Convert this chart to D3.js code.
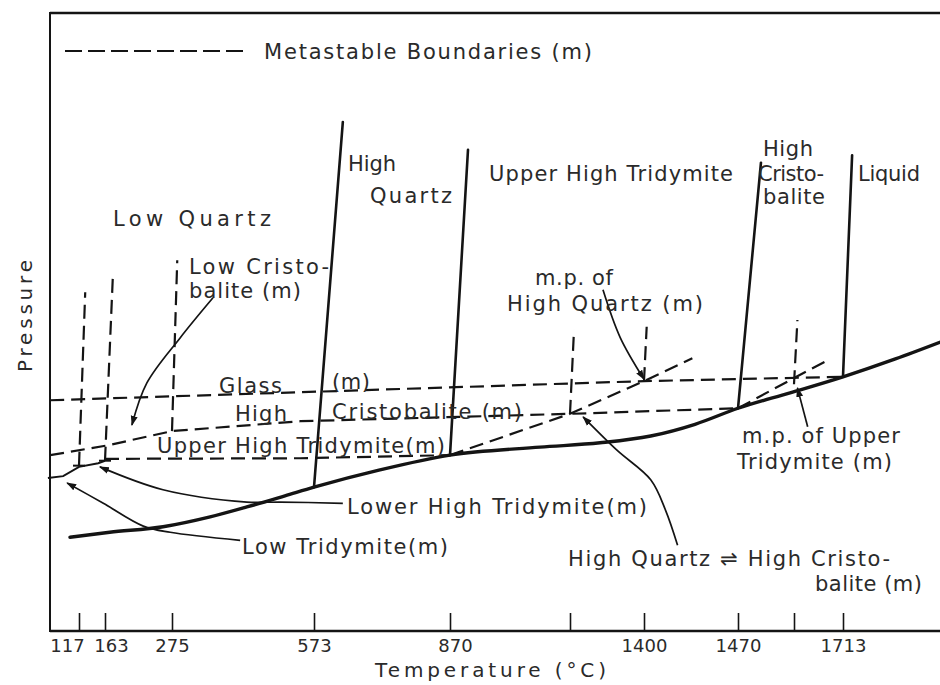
<!DOCTYPE html>
<html>
<head>
<meta charset="utf-8">
<script src="https://cdn.jsdelivr.net/npm/d3@7"></script>
<style>
  body { margin: 0; background: #fff; }
  svg { display: block; }
  text { font-family: "DejaVu Sans", sans-serif; fill: #2a2a2a; }
</style>
</head>
<body>
<svg id="chart" width="940" height="685"></svg>
<script>
// ---- Temperature axis (°C); blank labels mark metastable points without a printed value
const tickTemps  = [117, 163, 275, 573, 870, 1050, 1400, 1470, 1670, 1713];
const tickLabels = ["117", "163", "275", "573", "870", "", "1400", "1470", "", "1713"];

// ---- Stable boundaries, points as [temperature °C, relative pressure]
const stableCurve = [[101,15.2],[171,16.0],[260,16.9],[355,18.5],[432,20.1],[512,21.9],
  [573,23.3],[717,26.1],[870,28.5],[1005,29.8],[1192,30.5],[1405,31.6],[1438,33.5],
  [1470,36.1],[1656,38.6],[1713,41.2],[1759,44.1],[1798,46.8]];
const quartzBoundary      = [[573,23.3],[636,82.5]];   // low quartz / high quartz
const tridymiteBoundary   = [[870,28.5],[897,78.0]];   // high quartz / upper high tridymite
const cristobaliteBoundary= [[1470,36.1],[1552,75.9]]; // tridymite / high cristobalite
const meltingBoundary     = [[1713,41.2],[1721,77.1]]; // high cristobalite / liquid

// ---- Metastable boundaries (m)
const glassLine          = [[66,37.4],[544,38.7],[1400,40.5],[1713,41.2]];
const highCristobLine    = [[66,28.5],[168,30.1],[275,32.4],[544,34.0],[1050,35.2],[1470,36.1]];
const upperTridymiteLine = [[163,27.9],[544,28.0],[870,28.5]];
const quartzExtension    = [[870,28.5],[1050,35.2],[1400,40.5],[1436,44.2]];
const tridymiteExtension = [[1470,36.1],[1670,41.0],[1700,43.9]];
const lowTridymiteLine   = [[62,24.8],[89,25.1],[117,26.6],[151,27.2],[163,27.6]];
const metastableVerticals = [
  [[117,26.8],[128,54.9]],
  [[163,27.6],[176,57.2]],
  [[275,32.4],[286,60.1]],
  [[1050,35.2],[1069,48.8]],
  [[1400,40.5],[1402,49.3]],
  [[1670,40.0],[1673,50.4]]
];

// ---- Leader arrows from labels to the boundaries they name
const lowCristobArrow   = [[361,54.0],[292,47.5],[233,40.2],[208,33.4]];
const mpQuartzArrow     = [[1206,55.3],[1287,47.6],[1400,40.8]];
const mpTridymiteArrow  = [[1682,33.1],[1673,39.4]];
const quartzCristArrow  = [[1425,13.9],[1416,19.6],[1405,24.5],[1272,29.3],[1112,34.7]];
const lowerHighTriArrow = [[636,20.7],[502,20.9],[432,20.9],[260,22.9],[154,26.6]];
const lowTridymiteArrow = [[418,14.7],[272,16.0],[227,17.0],[160,20.7],[96,24.0]];

// ================= drawing =================
const svg = d3.select("#chart");
const ink = "#141414";

// schematic (piecewise) temperature scale and a plain pressure scale
const x = d3.scaleLinear()
  .domain(tickTemps)
  .range([79, 105, 172, 314, 450, 570, 644, 738, 794, 843]);
const y = d3.scaleLinear().domain([0, 100]).range([631, 14]);

const defs = svg.append("defs");
defs.append("marker")
  .attr("id", "arrow")
  .attr("viewBox", "0 0 10 10")
  .attr("refX", 9).attr("refY", 5)
  .attr("markerWidth", 10).attr("markerHeight", 10)
  .attr("markerUnits", "userSpaceOnUse")
  .attr("orient", "auto")
  .append("path").attr("d", "M0,1.5 L10,5 L0,8.5 Z").attr("fill", ink);

const straight = d3.line().x(d => x(d[0])).y(d => y(d[1]));
const smooth = d3.line().x(d => x(d[0])).y(d => y(d[1])).curve(d3.curveMonotoneX);
const leader = d3.line().x(d => x(d[0])).y(d => y(d[1])).curve(d3.curveCatmullRom.alpha(0.5));

// frame
const frame = svg.append("g").attr("stroke", ink).attr("fill", "none");
frame.append("line").attr("x1", 50).attr("x2", 940).attr("y1", 13).attr("y2", 13).attr("stroke-width", 2.5);
frame.append("line").attr("x1", 50).attr("x2", 50).attr("y1", 12).attr("y2", 632).attr("stroke-width", 2);
frame.append("line").attr("x1", 50).attr("x2", 940).attr("y1", 631).attr("y2", 631).attr("stroke-width", 2.5);

// temperature axis
const labelShift = { 117: -12, 163: 6, 870: 5 };
const axis = svg.append("g")
  .attr("transform", "translate(0,631)")
  .call(d3.axisBottom(x)
    .tickValues(tickTemps)
    .tickFormat((d, i) => tickLabels[i])
    .tickSize(-18)
    .tickPadding(8));
axis.select(".domain").remove();
axis.selectAll(".tick line").attr("stroke", ink).attr("stroke-width", 1.6);
axis.selectAll(".tick text")
  .attr("font-size", 18)
  .attr("font-family", "DejaVu Sans, sans-serif")
  .attr("fill", "#2a2a2a")
  .attr("dx", d => labelShift[d] || 0);

svg.append("text")
  .attr("x", 375).attr("y", 677)
  .attr("font-size", 20)
  .attr("textLength", 231).attr("lengthAdjust", "spacing")
  .text("Temperature (°C)");

svg.append("text")
  .attr("transform", "translate(32,372) rotate(-90)")
  .attr("font-size", 20)
  .attr("textLength", 112).attr("lengthAdjust", "spacing")
  .text("Pressure");

// legend
svg.append("line")
  .attr("x1", 65).attr("x2", 248).attr("y1", 51).attr("y2", 51)
  .attr("stroke", ink).attr("stroke-width", 2).attr("stroke-dasharray", "17,6");
svg.append("text")
  .attr("x", 264).attr("y", 59).attr("font-size", 21)
  .attr("textLength", 328).attr("lengthAdjust", "spacing")
  .text("Metastable Boundaries (m)");

// metastable (dashed) boundaries
const dashed = svg.append("g").attr("fill", "none").attr("stroke", ink)
  .attr("stroke-width", 2.2).attr("stroke-dasharray", "14,7");
[glassLine, highCristobLine, upperTridymiteLine, quartzExtension, tridymiteExtension]
  .forEach(d => dashed.append("path").attr("d", straight(d)));
metastableVerticals.forEach(d => dashed.append("path").attr("d", straight(d)));

// small feet at the bottom of the low-temperature inversions
const feet = svg.append("g").attr("stroke", ink).attr("stroke-width", 2);
metastableVerticals.slice(0, 2).forEach(d => {
  const bx = x(d[0][0]), by = y(d[0][1]);
  feet.append("line").attr("x1", bx - 6).attr("x2", bx + 6).attr("y1", by).attr("y2", by);
});

// metastable low tridymite boundary
svg.append("path").attr("d", straight(lowTridymiteLine))
  .attr("fill", "none").attr("stroke", ink).attr("stroke-width", 2);

// stable boundaries (solid)
const solid = svg.append("g").attr("fill", "none").attr("stroke", ink).attr("stroke-linecap", "round");
solid.append("path").attr("d", smooth(stableCurve)).attr("stroke-width", 3.4);
[quartzBoundary, tridymiteBoundary, cristobaliteBoundary, meltingBoundary]
  .forEach(d => solid.append("path").attr("d", straight(d)).attr("stroke-width", 2.6));

// leader arrows
const arrows = svg.append("g").attr("fill", "none").attr("stroke", ink).attr("stroke-width", 1.7);
[lowCristobArrow, mpQuartzArrow, mpTridymiteArrow, quartzCristArrow, lowerHighTriArrow, lowTridymiteArrow]
  .forEach(d => arrows.append("path").attr("d", leader(d)).attr("marker-end", "url(#arrow)"));

// phase-field and boundary labels: [text, x, baseline, width]
const labelLayout = [
  ["Low Quartz", 113, 226, 158],
  ["Low Cristo-", 189, 274, 140],
  ["balite (m)", 189, 298, 112],
  ["High", 348, 171, 48],
  ["Quartz", 370, 203, 82],
  ["Upper High Tridymite", 489, 181, 244],
  ["High", 763, 156, 50],
  ["Cristo-", 758, 181, 66],
  ["balite", 763, 204, 62],
  ["Liquid", 858, 181, 62],
  ["m.p. of", 535, 285, 78],
  ["High  Quartz (m)", 507, 311, 196],
  ["Glass", 219, 393, 63],
  ["(m)", 332, 389, 38],
  ["High", 235, 421, 52],
  ["Cristobalite (m)", 332, 419, 190],
  ["Upper High Tridymite(m)", 157, 453, 288],
  ["m.p. of Upper", 742, 443, 158],
  ["Tridymite (m)", 737, 469, 155],
  ["Lower High Tridymite(m)", 347, 514, 300],
  ["Low Tridymite(m)", 242, 554, 206],
  ["High Quartz \u21CC High Cristo-", 568, 566, 322],
  ["balite (m)", 815, 591, 107]
];
svg.append("g").selectAll("text").data(labelLayout).join("text")
  .attr("x", d => d[1]).attr("y", d => d[2])
  .attr("font-size", 21)
  .attr("textLength", d => d[3]).attr("lengthAdjust", "spacing")
  .text(d => d[0]);
</script>
</body>
</html>
